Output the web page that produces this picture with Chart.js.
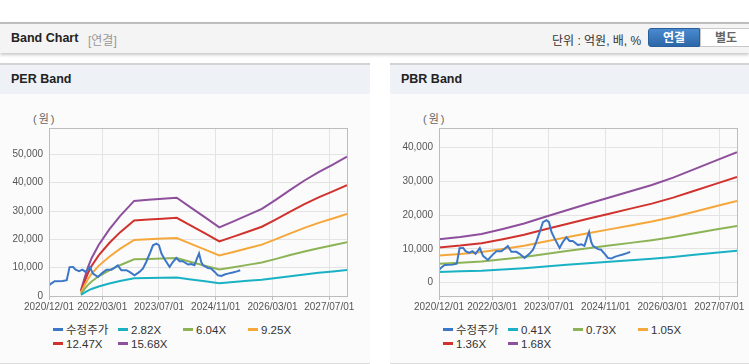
<!DOCTYPE html>
<html lang="ko">
<head>
<meta charset="utf-8">
<title>Band Chart</title>
<script src="https://cdn.jsdelivr.net/npm/chart.js@4.4.1/dist/chart.umd.min.js"></script>
<style>
  html, body { margin: 0; padding: 0; }
  body {
    width: 749px; height: 364px; overflow: hidden; position: relative; background: #fff;
    font-family: "Liberation Sans", "Noto Sans CJK KR", sans-serif; color: #222;
  }
  .topbar {
    position: absolute; left: 0; top: 22px; width: 749px; height: 29px;
    border-top: 2px solid #bdbdbd; background: #f4f4f4;
    box-shadow: 0 2px 3px rgba(0,0,0,0.22);
  }
  .topbar .title { position: absolute; left: 11px; top: 7px; font-size: 12.5px; font-weight: bold; }
  .topbar .sub { position: absolute; left: 88px; top: 7px; font-size: 12px; color: #999; }
  .topbar .unit { position: absolute; left: 552px; top: 7px; font-size: 12px; color: #333; }
  .btn { position: absolute; top: 4px; height: 19px; line-height: 19px; text-align: center; font-size: 12px; font-weight: bold; box-sizing: border-box; }
  .btn.on { left: 648px; width: 52px; background: linear-gradient(#4a8ad0, #2c67a8); color: #fff; border: 1px solid #2a5f9c; border-radius: 3px 0 0 3px; }
  .btn.off { left: 700px; width: 52px; background: #fff; color: #666; border: 1px solid #c8c8c8; }
  .panel { position: absolute; top: 63px; height: 298px; background: #fbfbfb; border-top: 2px solid #d3d3d3; border-bottom: 2px solid #dcdcdc; }
  .panel .head { height: 29px; background: #eef1f6; font-size: 12.5px; font-weight: bold; line-height: 29px; padding-left: 11px; }
  #perPanel { left: 0; width: 370px; }
  #pbrPanel { left: 390px; width: 359px; }
  canvas { position: absolute; }
  .unitlabel { position: absolute; font-size: 11px; color: #666; letter-spacing: 2px; }
  .legend { position: absolute; display: grid; grid-template-columns: repeat(4, 65px); font-size: 11.5px; color: #333; line-height: 14px; }
  .legend span.sw { display: inline-block; width: 10px; height: 3px; vertical-align: middle; margin-right: 3px; position: relative; top: -1px; }
</style>
</head>
<body>

<div class="topbar">
  <span class="title">Band Chart</span>
  <span class="sub">[연결]</span>
  <span class="unit">단위 : 억원, 배, %</span>
  <div class="btn on">연결</div>
  <div class="btn off">별도</div>
</div>

<div class="panel" id="perPanel"><div class="head">PER Band</div></div>
<div class="panel" id="pbrPanel"><div class="head">PBR Band</div></div>

<span class="unitlabel" style="left:33px; top:110px;">(원)</span>
<span class="unitlabel" style="left:423px; top:110px;">(원)</span>

<canvas id="perChart" width="370" height="224" style="left:0; top:94px;"></canvas>
<canvas id="pbrChart" width="359" height="224" style="left:390px; top:94px;"></canvas>

<div class="legend" id="perLegend" style="left:53px; top:323px;"></div>
<div class="legend" id="pbrLegend" style="left:443px; top:323px;"></div>

<script>
// x axis: months since 2020/12/01
const X_TICK_MONTHS = [0, 15, 31, 47, 63, 79];
const X_TICK_LABELS = ['2020/12/01', '2022/03/01', '2023/07/01', '2024/11/01', '2026/03/01', '2027/07/01'];
const X_MAX = 84;

// 수정주가 (adjusted price)
const PRICE_MONTHS = [0, 0.6, 1.6, 3.9, 5.0, 5.8, 6.8, 7.5, 8.5, 9.4, 10.3, 11.5, 12.4, 13.8, 14.8, 16.2, 17.6, 18.5, 19.4, 20.4,
  21.8, 22.7, 24.1, 25.5, 26.5, 27.4, 28.4, 29.3, 30.3, 31.0, 31.7, 32.6, 34.0, 34.9, 35.9, 36.8, 37.7, 39.2, 40.1, 41.0,
  41.7, 42.3, 42.9, 43.4, 44.8, 45.7, 46.7, 47.6, 48.6, 49.5, 50.4, 51.8, 53.0, 53.9];
const PRICE = [3700, 4400, 5200, 5300, 5600, 10200, 10250, 9300, 8800, 9300, 8500, 10200, 7900, 6700, 7900, 9300, 9300, 10000, 10800, 9100,
  9100, 8500, 7300, 8500, 9700, 12000, 15000, 17900, 18500, 17900, 15000, 13000, 10250, 12000, 13400, 12300, 12300, 11100, 11300, 10850,
  13200, 15000, 12000, 10850, 9900, 9700, 8500, 7300, 7100, 7600, 7900, 8300, 8700, 9100];

// PER band
const PER_MONTHS = [9, 10, 11, 12, 14, 17, 20, 24, 28, 32, 36, 40, 44, 48, 52, 56, 60, 64, 68, 72, 76, 80, 84];
const PER_LABELS = ['수정주가', '2.82X', '6.04X', '9.25X', '12.47X', '15.68X'];
const PER_282 = [380, 1170, 1900, 2490, 3370, 4400, 5280, 6280, 6350, 6420, 6490, 5840, 5190, 4530, 4930, 5340, 5750, 6360, 7010, 7630, 8180, 8680, 9190];
const PER_604 = [790, 2420, 3930, 5130, 6950, 9060, 10870, 12930, 13080, 13230, 13370, 12020, 10690, 9330, 10150, 10990, 11840, 13110, 14440, 15700, 16850, 17880, 18940];
const PER_925 = [1200, 3700, 6010, 7860, 10640, 13880, 16650, 19800, 20030, 20260, 20470, 18410, 16370, 14290, 15540, 16840, 18130, 20070, 22110, 24050, 25810, 27380, 29000];
const PER_1247 = [1620, 4990, 8110, 10600, 14340, 18710, 22450, 26690, 27000, 27310, 27600, 24820, 22070, 19270, 20950, 22700, 24440, 27060, 29800, 32420, 34790, 36910, 39090];
const PER_1568 = [2040, 6270, 10190, 13330, 18030, 23520, 28220, 33560, 33950, 34340, 34700, 31200, 27750, 24230, 26340, 28540, 30730, 34030, 37480, 40770, 43750, 46410, 49160];
const PER_Y_TICKS = [0, 10000, 20000, 30000, 40000, 50000];

// PBR band
const PBR_MONTHS = [0, 6, 12, 18, 24, 30, 36, 42, 48, 54, 60, 66, 72, 78, 84];
const PBR_LABELS = ['수정주가', '0.41X', '0.73X', '1.05X', '1.36X', '1.68X'];
const PBR_041 = [3140, 3300, 3520, 3880, 4260, 4760, 5230, 5700, 6150, 6600, 7050, 7590, 8200, 8820, 9430];
const PBR_073 = [5590, 5880, 6260, 6900, 7590, 8470, 9310, 10150, 10950, 11750, 12560, 13510, 14600, 15700, 16790];
const PBR_105 = [8030, 8450, 9010, 9920, 10920, 12180, 13390, 14600, 15750, 16910, 18060, 19430, 21000, 22580, 24150];
const PBR_136 = [10400, 10950, 11670, 12850, 14140, 15780, 17340, 18900, 20400, 21900, 23390, 25160, 27200, 29240, 31280];
const PBR_168 = [12850, 13520, 14410, 15880, 17470, 19490, 21420, 23350, 25200, 27050, 28900, 31080, 33600, 36120, 38640];
const PBR_Y_TICKS = [0, 10000, 20000, 30000, 40000];

const COLORS = ['#3b77c6', '#19b1c3', '#8cb456', '#f5a73a', '#d0322e', '#8e4f9d'];

Chart.defaults.font.family = '"Liberation Sans", "Noto Sans CJK KR", sans-serif';
Chart.defaults.animation = false;

function pts(xs, ys) {
  return xs.map((x, i) => ({ x: x, y: ys[i] }));
}

// grey frame round the plot area
const framePlugin = {
  id: 'frame',
  afterDraw(chart) {
    const a = chart.chartArea;
    const c = chart.ctx;
    c.save();
    c.strokeStyle = '#bdbdbd';
    c.lineWidth = 1;
    c.strokeRect(Math.round(a.left) + 0.5, Math.round(a.top) + 0.5, Math.round(a.right - a.left), Math.round(a.bottom - a.top));
    c.restore();
  }
};

function makeChart(id, series, labels, yMin, yMax, yTicks, padRight) {
  const datasets = series.map((s, i) => ({
    label: labels[i],
    data: pts(s[0], s[1]),
    borderColor: COLORS[i],
    borderWidth: 2,
    pointRadius: 0,
    tension: 0,
    fill: false
  }));
  return new Chart(document.getElementById(id), {
    type: 'line',
    data: { datasets: datasets },
    options: {
      responsive: false,
      layout: { padding: { left: 0, right: padRight, top: 34, bottom: 0 } },
      plugins: { legend: { display: false }, tooltip: { enabled: false } },
      scales: {
        x: {
          type: 'linear',
          min: 0,
          max: X_MAX,
          afterBuildTicks: scale => { scale.ticks = X_TICK_MONTHS.map(v => ({ value: v })); },
          afterFit: scale => { scale.height = 22; },
          grid: { color: '#e4e4e4', tickLength: 4, tickColor: '#bdbdbd' },
          border: { color: '#bdbdbd' },
          ticks: {
            autoSkip: false, maxRotation: 0, minRotation: 0, padding: 1,
            color: '#555', font: { size: 10 },
            callback: (v, i) => X_TICK_LABELS[i]
          }
        },
        y: {
          min: yMin,
          max: yMax,
          afterBuildTicks: scale => { scale.ticks = yTicks.map(v => ({ value: v })); },
          afterFit: scale => { scale.width = 49; },
          grid: { color: '#e4e4e4', drawTicks: false },
          border: { color: '#bdbdbd' },
          ticks: {
            padding: 6, color: '#555', font: { size: 10 },
            callback: v => v.toLocaleString('en-US')
          }
        }
      }
    },
    plugins: [framePlugin]
  });
}

function makeLegend(id, labels) {
  const box = document.getElementById(id);
  labels.forEach((t, i) => {
    const item = document.createElement('div');
    const sw = document.createElement('span');
    sw.className = 'sw';
    sw.style.background = COLORS[i];
    item.appendChild(sw);
    item.appendChild(document.createTextNode(t));
    box.appendChild(item);
  });
}

makeChart('perChart', [
  [PRICE_MONTHS, PRICE],
  [PER_MONTHS, PER_282],
  [PER_MONTHS, PER_604],
  [PER_MONTHS, PER_925],
  [PER_MONTHS, PER_1247],
  [PER_MONTHS, PER_1568]
], PER_LABELS, 0, 59300, PER_Y_TICKS, 23);

makeChart('pbrChart', [
  [PRICE_MONTHS, PRICE],
  [PBR_MONTHS, PBR_041],
  [PBR_MONTHS, PBR_073],
  [PBR_MONTHS, PBR_105],
  [PBR_MONTHS, PBR_136],
  [PBR_MONTHS, PBR_168]
], PBR_LABELS, -4000, 45800, PBR_Y_TICKS, 12);

makeLegend('perLegend', PER_LABELS);
makeLegend('pbrLegend', PBR_LABELS);
</script>
</body>
</html>
